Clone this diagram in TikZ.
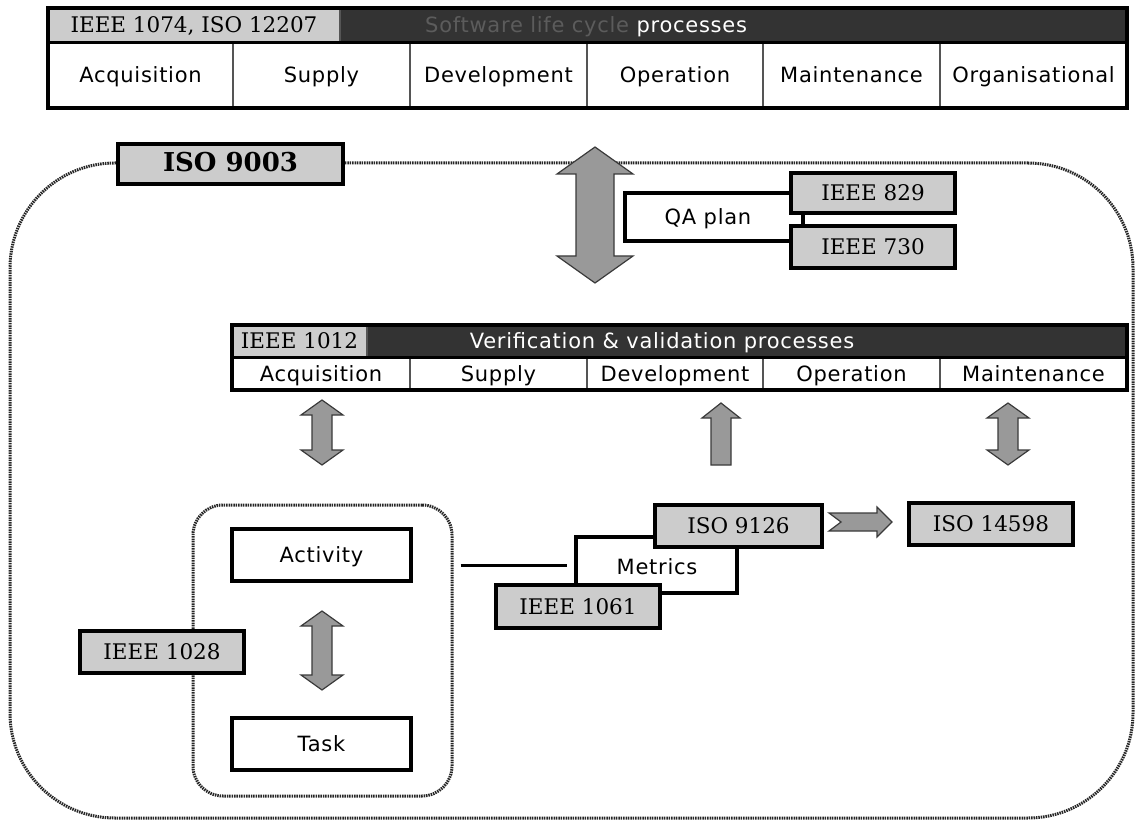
\documentclass[tikz,border=0pt]{standalone}
\usepackage{fontspec}
\setmainfont{DejaVu Serif}
\newfontfamily\labfont{DejaVu Sans}[LetterSpace=3.5]
\usetikzlibrary{calc}

\definecolor{stdgray}{HTML}{CCCCCC}
\definecolor{hdrdark}{HTML}{333333}
\definecolor{dimtext}{HTML}{5C5C5C}
\definecolor{arrowfill}{HTML}{999999}
\definecolor{arrowline}{HTML}{3A3A3A}
\definecolor{dotline}{HTML}{262626}
\definecolor{cellline}{HTML}{555555}

% vertical double block arrow: centre x, top y, bottom y, head half-width, shaft half-width, head length
\newcommand{\vdblarrow}[6]{%
  \filldraw[blockarrow] (#1,#2) -- ($(#1+#4,#2)+(0,#6)$) -- ($(#1+#5,#2)+(0,#6)$)
  -- ($(#1+#5,#3)-(0,#6)$) -- ($(#1+#4,#3)-(0,#6)$) -- (#1,#3) -- ($(#1-#4,#3)-(0,#6)$)
  -- ($(#1-#5,#3)-(0,#6)$) -- ($(#1-#5,#2)+(0,#6)$) -- ($(#1-#4,#2)+(0,#6)$) -- cycle;}
% vertical single block arrow pointing up
\newcommand{\vuparrow}[6]{%
  \filldraw[blockarrow] (#1,#2) -- ($(#1+#4,#2)+(0,#6)$) -- ($(#1+#5,#2)+(0,#6)$)
  -- (#1+#5,#3) -- (#1-#5,#3) -- ($(#1-#5,#2)+(0,#6)$) -- ($(#1-#4,#2)+(0,#6)$) -- cycle;}

\tikzset{
  sanstext/.style={font=\labfont\fontsize{21}{25}\selectfont, text height=15pt, text depth=0pt},
  seriftext/.style={font=\fontsize{21.5}{26}\selectfont, text height=16pt, text depth=1pt},
  stdbox/.style={draw=black, line width=3.2pt, fill=stdgray, inner sep=0pt, seriftext},
  plainbox/.style={draw=black, line width=3.2pt, fill=white, inner sep=0pt, sanstext},
  cell/.style={draw=cellline, line width=1.3pt, fill=white, inner sep=0pt, sanstext},
  hdrcell/.style={fill=hdrdark, draw=cellline, line width=1.3pt, inner sep=0pt},
  graycell/.style={fill=stdgray, draw=cellline, line width=1.3pt, inner sep=0pt, seriftext},
  framebox/.style={draw=black, line width=3.2pt},
  dotframe/.style={draw=dotline, line width=3pt, dash pattern=on 1.5pt off 0.9pt},
  blockarrow/.style={fill=arrowfill, draw=arrowline, line width=1.2pt, line join=miter},
  linkline/.style={draw=black, line width=3pt},
}

\begin{document}
\begin{tikzpicture}[x=1pt,y=-1pt]
\useasboundingbox (0,0) rectangle (1143,826);

% ---------- software life cycle processes ----------
\node[graycell, minimum width=292, minimum height=34] (lchead) at (194,25) {IEEE 1074, ISO 12207};
\node[hdrcell, minimum width=787, minimum height=34] (lcdark) at (733.5,25) {};
\node[anchor=west, inner sep=0pt, sanstext]
  (lctitle) at (425,25) {\textcolor{dimtext}{Software life cycle} \textcolor{white}{processes}};
\foreach \a/\b/\t [count=\i] in {48/233/Acquisition, 233/410/Supply, 410/587/Development,
    587/763/Operation, 763/940/Maintenance, 940/1127/Organisational}
  \node[cell, minimum width=\b-\a, minimum height=66] (lc\i) at ({(\a+\b)/2},75) {\t};
\coordinate (lcnw) at (48,8);
\coordinate (lcse) at (1127,108);
\draw[framebox] (lcnw) rectangle (lcse);
\draw[framebox] (lchead.south west) -- (lcdark.south east);

% ---------- ISO 9003 frame ----------
\node[dotframe, rounded corners=105, minimum width=1123, minimum height=655] (frame) at (571.5,490.5) {};
\node[stdbox, minimum width=225, minimum height=40, font=\bfseries\fontsize{26}{30}\selectfont]
  (iso9003) at (230.5,164) {ISO 9003};

% ---------- QA plan ----------
\vdblarrow{595}{147}{283}{38}{19}{27}
\node[plainbox, minimum width=178, minimum height=48] (qa) at (714,217) {};
\node[inner sep=0pt, sanstext] (qatext) at (708,217) {QA plan};
\node[stdbox, minimum width=164, minimum height=40] (ieee829) at (873,193) {IEEE 829};
\node[stdbox, minimum width=164, minimum height=42] (ieee730) at (873,247) {IEEE 730};

% ---------- verification & validation processes ----------
\node[graycell, minimum width=135, minimum height=32] (vvhead) at (299.5,341) {IEEE 1012};
\node[hdrcell, minimum width=760, minimum height=32] (vvdark) at (747,341) {};
\node[inner sep=0pt, text=white, sanstext]
  (vvtitle) at (662,341) {Verification \& validation processes};
\foreach \a/\b/\t [count=\i] in {232/410/Acquisition, 410/587/Supply, 587/763/Development,
    763/940/Operation, 940/1127/Maintenance}
  \node[cell, minimum width=\b-\a, minimum height=33] (vv\i) at ({(\a+\b)/2},373.5) {\t};
\coordinate (vvnw) at (232,325);
\coordinate (vvse) at (1127,390);
\draw[framebox] (vvnw) rectangle (vvse);
\draw[framebox] (vvhead.south west) -- (vvdark.south east);

\vdblarrow{322}{400}{465}{21}{10}{15}
\vuparrow{721}{403}{465}{19}{10}{15}
\vdblarrow{1008}{403}{465}{21}{10}{15}

% ---------- activity / task ----------
\node[dotframe, rounded corners=30, minimum width=259, minimum height=291] (proc) at (322.5,650.5) {};
\node[plainbox, minimum width=179, minimum height=52] (activity) at (321.5,555) {Activity};
\node[plainbox, minimum width=179, minimum height=52] (task) at (321.5,744) {Task};
\vdblarrow{322}{611}{690}{21}{10}{15}
\node[stdbox, minimum width=164, minimum height=42] (ieee1028) at (162,652) {IEEE 1028};

% ---------- metrics ----------
\node[plainbox, minimum width=161, minimum height=56] (metrics) at (656.5,565) {};
\node[inner sep=0pt, sanstext] (metricstext) at (657,567) {Metrics};
\node[stdbox, minimum width=167, minimum height=42] (iso9126) at (738.5,526) {ISO 9126};
\node[stdbox, minimum width=164, minimum height=43] (ieee1061) at (578,606.5) {IEEE 1061};
\node[stdbox, minimum width=164, minimum height=42] (iso14598) at (991,524) {ISO 14598};
\draw[linkline] ([xshift=7pt]proc.east |- metrics.west) -- ([xshift=-7pt]metrics.west);

% notched arrow between ISO 9126 and ISO 14598
\filldraw[blockarrow] (829,513) -- (877,513) -- (877,507) -- (892,522) -- (877,537)
  -- (877,531) -- (829,531) -- (841,522) -- cycle;
\end{tikzpicture}
\end{document}
